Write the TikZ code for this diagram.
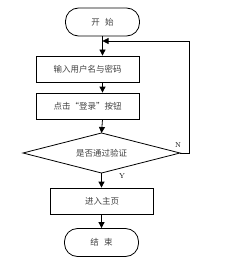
\documentclass[tikz,border=0pt]{standalone}
\usepackage{fontspec}
\newfontfamily\cjk{Noto Sans CJK SC}
\usetikzlibrary{arrows.meta}
\begin{document}
\begin{tikzpicture}[x=1pt,y=-1pt,
  every node/.style={font=\cjk\fontsize{8.5}{10}\selectfont, text=black!75},
  term/.style={draw=black, line width=0.8pt, rounded corners=13pt, minimum width=74pt, minimum height=28pt, inner sep=0pt},
  proc/.style={draw=black, line width=0.8pt, minimum width=103pt, minimum height=26pt, inner sep=0pt},
  dec/.style={draw=black, line width=0.8pt},
  arr/.style={line width=0.8pt, -{Triangle[length=6pt,width=6pt]}},
  lbl/.style={font=\fontsize{7}{8}\selectfont, text=black}]
\useasboundingbox (0,0) rectangle (229,262);
\node[term] (start) at (102.5,22) {开\hspace{0.6em}始};
\node[proc] (in) at (87.5,69) {输入用户名与密码};
\node[proc] (click) at (87.5,106) {点击“登录”按钮};
\coordinate (dtop) at (101.5,133);
\coordinate (dright) at (180,153);
\coordinate (dbot) at (101.5,173);
\coordinate (dleft) at (23,153);
\draw[dec] (dtop) -- (dright) -- (dbot) -- (dleft) -- cycle;
\node (dlab) at (101.5,153) {是否通过验证};
\node[proc] (home) at (102,201) {进入主页};
\node[term] (end) at (101.5,242.5) {结\hspace{0.6em}束};
\coordinate (join) at (102.5,41);
\coordinate (c1) at (189,153);
\coordinate (c2) at (189,41);
\draw[line width=0.8pt] (start.south) -- (join);
\draw[arr] (join) -- (in.north -| join);
\draw[arr] (in.south -| join) -- (click.north -| join);
\draw[arr] (click.south -| join) -- (dtop);
\draw[arr] (dbot) -- (home.north -| dbot);
\draw[arr] (home.south -| dbot) -- (end.north -| dbot);
\draw[arr] (dright) -- (c1) -- (c2) -- (join);
\node[lbl] (n) at (178,145) {N};
\node[lbl] (y) at (122,176) {Y};
\end{tikzpicture}
\end{document}
